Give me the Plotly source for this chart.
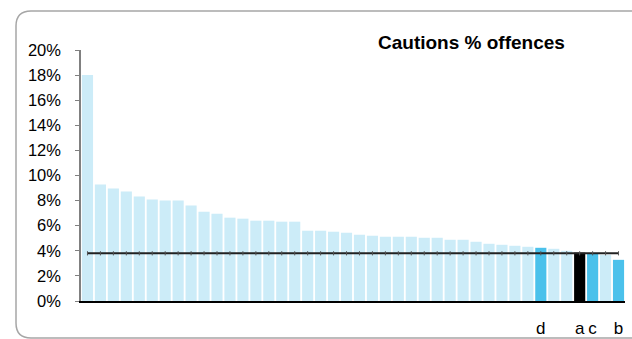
import plotly.graph_objects as go

# ---- data ----
values = [18.0, 9.28, 8.96, 8.72, 8.32, 8.08, 8.0, 8.0, 7.6, 7.12,
          6.96, 6.64, 6.56, 6.4, 6.4, 6.32, 6.32, 5.6, 5.6, 5.52,
          5.44, 5.28, 5.2, 5.12, 5.12, 5.12, 5.04, 5.04, 4.88, 4.88,
          4.72, 4.56, 4.48, 4.4, 4.32, 4.24, 4.16, 4.0, 3.85, 3.76,
          3.68, 3.28]
bar_labels = [""] * 35 + ["d", "", "", "a", "c", "", "b"]
highlight = [""] * 35 + ["blue", "", "", "black", "blue", "", "blue"]
average = 3.8
title_text = "Cautions % offences"

# ---- styles ----
colour_map = {"": "#CCECF8", "blue": "#4BC1EB", "black": "#000000"}
colors = [colour_map[h] for h in highlight]
xs = list(range(1, len(values) + 1))
yvals = [v / 100 for v in values]
tickvals = [x for x, l in zip(xs, bar_labels) if l]
ticktext = [l for l in bar_labels if l]

fig = go.Figure()
fig.add_trace(go.Bar(x=xs, y=yvals, marker=dict(color=colors, line=dict(width=0)),
                     hoverinfo="skip"))
fig.add_trace(go.Scatter(x=xs, y=[average / 100] * len(xs), mode="lines+markers",
                         line=dict(color="#222222", width=2),
                         marker=dict(symbol="line-ns", size=3,
                                     line=dict(color="#555555", width=1)),
                         hoverinfo="skip"))

FONT = "Liberation Sans, Arial, sans-serif"
W, H = 632, 339
L, R, T, B = 81, 7, 50, 38
pw, ph = W - L - R, H - T - B

def px(x):
    return (x - L) / pw

def py(y):
    return (H - B - y) / ph

left, top, bottom, right = px(16), py(11), py(338), px(650)
rx, ry = 15 / pw, 15 / ph
frame = (f"M {right},{top} L {left + rx},{top} Q {left},{top} {left},{top - ry} "
         f"L {left},{bottom + ry} Q {left},{bottom} {left + rx},{bottom} L {right},{bottom}")

fig.update_layout(
    width=W, height=H,
    margin=dict(l=L, r=R, t=T, b=B, autoexpand=False),
    paper_bgcolor="white", plot_bgcolor="white",
    showlegend=False,
    bargap=0.14,
    font=dict(family=FONT, color="#000000"),
    shapes=[dict(type="path", path=frame, xref="paper", yref="paper",
                 line=dict(color="#A6A6A6", width=1.5), layer="below")],
    annotations=[dict(text=f"<b>{title_text}</b>", x=px(471), y=py(42),
                      xref="paper", yref="paper", showarrow=False,
                      xanchor="center", yanchor="middle",
                      font=dict(size=19, family=FONT, color="#000000"))],
)
fig.update_xaxes(range=[0.5, len(values) + 0.5], tickvals=tickvals, ticktext=ticktext,
                 showgrid=False, zeroline=False, showline=True, linecolor="#000000",
                 linewidth=1.5, ticks="", tickfont=dict(size=17, family=FONT),
                 ticklabelstandoff=11, automargin=False)
fig.update_yaxes(range=[0, 0.20], dtick=0.02, tickformat=".0%", showgrid=False,
                 zeroline=False, showline=True, linecolor="#808080", linewidth=1.5,
                 ticks="outside", ticklen=4, tickcolor="#808080", tickwidth=1,
                 tickfont=dict(size=16.5, family=FONT), ticklabelstandoff=11,
                 automargin=False)

fig.write_html("out.html", config={"displayModeBar": False},
               post_script="document.body.style.margin='0';document.body.style.overflow='hidden';")
